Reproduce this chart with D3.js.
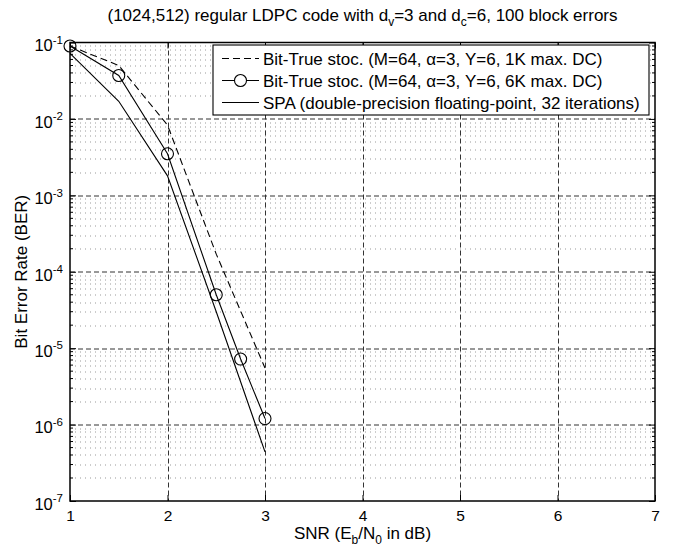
<!DOCTYPE html>
<html>
<head>
<meta charset="utf-8">
<script src="https://cdn.jsdelivr.net/npm/d3@7"></script>
<style>
  body { margin: 0; background: #fff; }
  svg text { font-family: "Liberation Sans", Arial, Helvetica, sans-serif; fill: #000; }
</style>
</head>
<body>
<div id="chart"></div>
<script>
// series
const snr1k = [1, 1.5, 2, 2.5, 3];
const ber1k = [0.09, 0.05, 0.0083, 1.7e-4, 5.5e-6];
const snr6k = [1, 1.5, 2, 2.5, 2.75, 3];
const ber6k = [0.09, 0.037, 0.0035, 5e-5, 7.2e-6, 1.2e-6];
const snrSpa = [1, 1.5, 2, 2.5, 3];
const berSpa = [0.072, 0.017, 0.0018, 3e-5, 4.4e-7];

const xTicks = [1, 2, 3, 4, 5, 6, 7];
const yExponents = [-1, -2, -3, -4, -5, -6, -7];
const legendLabels = [
    "Bit-True stoc. (M=64, \u03b1=3, Y=6, 1K max. DC)",
    "Bit-True stoc. (M=64, \u03b1=3, Y=6, 6K max. DC)",
    "SPA (double-precision floating-point, 32 iterations)"
];

var W = 673, H = 550;
var margin = { top: 42.5, right: 18, bottom: 49, left: 70 },
    width = W - margin.left - margin.right,
    height = H - margin.top - margin.bottom;

var svg = d3.select("#chart").append("svg")
    .attr("width", W)
    .attr("height", H);

var g = svg.append("g")
    .attr("transform", "translate(" + margin.left + "," + margin.top + ")");

var x = d3.scaleLinear().domain([1, 7]).range([0, width]);
var y = d3.scaleLog().domain([1e-7, 1e-1]).range([height, 0]);

// minor decade values (2..9 x 10^k)
var minor = [];
for (var e = -7; e < -1; e++) {
    for (var m = 2; m <= 9; m++) minor.push(m * Math.pow(10, e));
}
var majorY = yExponents.map(function (k) { return Math.pow(10, k); });

// grid: minor dotted, major dashed
g.append("g").selectAll("line")
    .data(minor).enter().append("line")
    .attr("x1", 0).attr("x2", width)
    .attr("y1", function (d) { return Math.round(y(d)) + 0.5; })
    .attr("y2", function (d) { return Math.round(y(d)) + 0.5; })
    .style("stroke", "#999")
    .style("stroke-dasharray", "1,4");

g.append("g").selectAll("line")
    .data(majorY.slice(1, -1)).enter().append("line")
    .attr("x1", 0).attr("x2", width)
    .attr("y1", function (d) { return Math.round(y(d)) + 0.5; })
    .attr("y2", function (d) { return Math.round(y(d)) + 0.5; })
    .style("stroke", "#333")
    .style("stroke-dasharray", "5,3");

g.append("g").selectAll("line")
    .data(xTicks.slice(1, -1)).enter().append("line")
    .attr("y1", 0).attr("y2", height)
    .attr("x1", function (d) { return Math.round(x(d)) + 0.5; })
    .attr("x2", function (d) { return Math.round(x(d)) + 0.5; })
    .style("stroke", "#333")
    .style("stroke-dasharray", "5,3");

// axes (ticks drawn inward, like matlab)
var xAxis = g.append("g")
    .attr("transform", "translate(0," + height + ")")
    .call(d3.axisBottom(x).tickValues(xTicks).tickSize(-6).tickPadding(9).tickFormat(d3.format("d")));
xAxis.select(".domain").remove();
xAxis.selectAll("text").style("font-size", "15.5px");

var xTop = g.append("g")
    .call(d3.axisTop(x).tickValues(xTicks).tickSize(-6).tickFormat(""));
xTop.select(".domain").remove();

var yAxis = g.append("g")
    .call(d3.axisLeft(y).tickValues(majorY).tickSize(-6).tickPadding(7).tickFormat(""));
yAxis.select(".domain").remove();
yAxis.selectAll(".tick text").each(function (d) {
    var t = d3.select(this).style("font-size", "16.5px").attr("dy", "0.5em");
    t.append("tspan").text("10");
    t.append("tspan").attr("dy", "-0.65em").style("font-size", "11.5px")
        .text("-" + Math.round(-Math.log10(d)));
});

var yRight = g.append("g")
    .attr("transform", "translate(" + width + ",0)")
    .call(d3.axisRight(y).tickValues(majorY).tickSize(-6).tickFormat(""));
yRight.select(".domain").remove();

[0, width].forEach(function (px) {
    g.append("g").selectAll("line")
        .data(minor).enter().append("line")
        .attr("x1", px).attr("x2", px === 0 ? 3 : width - 3)
        .attr("y1", function (d) { return y(d); })
        .attr("y2", function (d) { return y(d); })
        .style("stroke", "#000");
});
g.selectAll(".tick line").style("stroke", "#000");

// frame
g.append("rect")
    .attr("width", width).attr("height", height)
    .style("fill", "none").style("stroke", "#000").style("stroke-width", 1.5);

// series
var line = d3.line()
    .x(function (d) { return x(d[0]); })
    .y(function (d) { return y(d[1]); });

var data1k = snr1k.map(function (s, i) { return [s, ber1k[i]]; });
var data6k = snr6k.map(function (s, i) { return [s, ber6k[i]]; });
var dataSpa = snrSpa.map(function (s, i) { return [s, berSpa[i]]; });

g.append("path").datum(data1k).attr("d", line)
    .style("fill", "none").style("stroke", "#000").style("stroke-width", 1.1)
    .style("stroke-dasharray", "7,4");
g.append("path").datum(data6k).attr("d", line)
    .style("fill", "none").style("stroke", "#000").style("stroke-width", 1.1);
g.append("path").datum(dataSpa).attr("d", line)
    .style("fill", "none").style("stroke", "#000").style("stroke-width", 1.1);

g.selectAll(".mark").data(data6k).enter().append("circle")
    .attr("class", "mark")
    .attr("cx", function (d) { return x(d[0]); })
    .attr("cy", function (d) { return y(d[1]); })
    .attr("r", 6)
    .style("fill", "none").style("stroke", "#000").style("stroke-width", 1.1);

// legend
var legend = g.append("g").attr("transform", "translate(143,2.5)");
legend.append("rect")
    .attr("width", 436).attr("height", 70)
    .style("fill", "#fff").style("stroke", "#000").style("stroke-width", 1.1);
var rows = legend.selectAll(".row").data(legendLabels).enter().append("g")
    .attr("transform", function (d, i) { return "translate(0," + (13.5 + i * 22) + ")"; });
rows.append("line")
    .attr("x1", 9).attr("x2", 46).attr("y1", 0).attr("y2", 0)
    .style("stroke", "#000").style("stroke-width", 1.1)
    .style("stroke-dasharray", function (d, i) { return i === 0 ? "7,4" : null; });
rows.filter(function (d, i) { return i === 1; }).append("circle")
    .attr("cx", 27.5).attr("cy", 0).attr("r", 6)
    .style("fill", "#fff").style("stroke", "#000").style("stroke-width", 1.1);
rows.append("text")
    .attr("x", 50).attr("dy", "0.36em")
    .style("font-size", "17px")
    .text(function (d) { return d; });

// title
var title = svg.append("text")
    .attr("x", margin.left + width / 2).attr("y", 21)
    .attr("text-anchor", "middle").style("font-size", "17px");
title.append("tspan").text("(1024,512) regular LDPC code with d");
title.append("tspan").attr("dy", 5).style("font-size", "12px").text("v");
title.append("tspan").attr("dy", -5).text("=3 and d");
title.append("tspan").attr("dy", 5).style("font-size", "12px").text("c");
title.append("tspan").attr("dy", -5).text("=6, 100 block errors");

// x label
var xl = svg.append("text")
    .attr("x", margin.left + width / 2).attr("y", 539)
    .attr("text-anchor", "middle").style("font-size", "17px");
xl.append("tspan").text("SNR (E");
xl.append("tspan").attr("dy", 5).style("font-size", "12px").text("b");
xl.append("tspan").attr("dy", -5).text("/N");
xl.append("tspan").attr("dy", 5).style("font-size", "12px").text("0");
xl.append("tspan").attr("dy", -5).text(" in dB)");

// y label
svg.append("text")
    .attr("transform", "translate(27," + (margin.top + height / 2) + ") rotate(-90)")
    .attr("text-anchor", "middle").style("font-size", "17px")
    .text("Bit Error Rate (BER)");
</script>
</body>
</html>
